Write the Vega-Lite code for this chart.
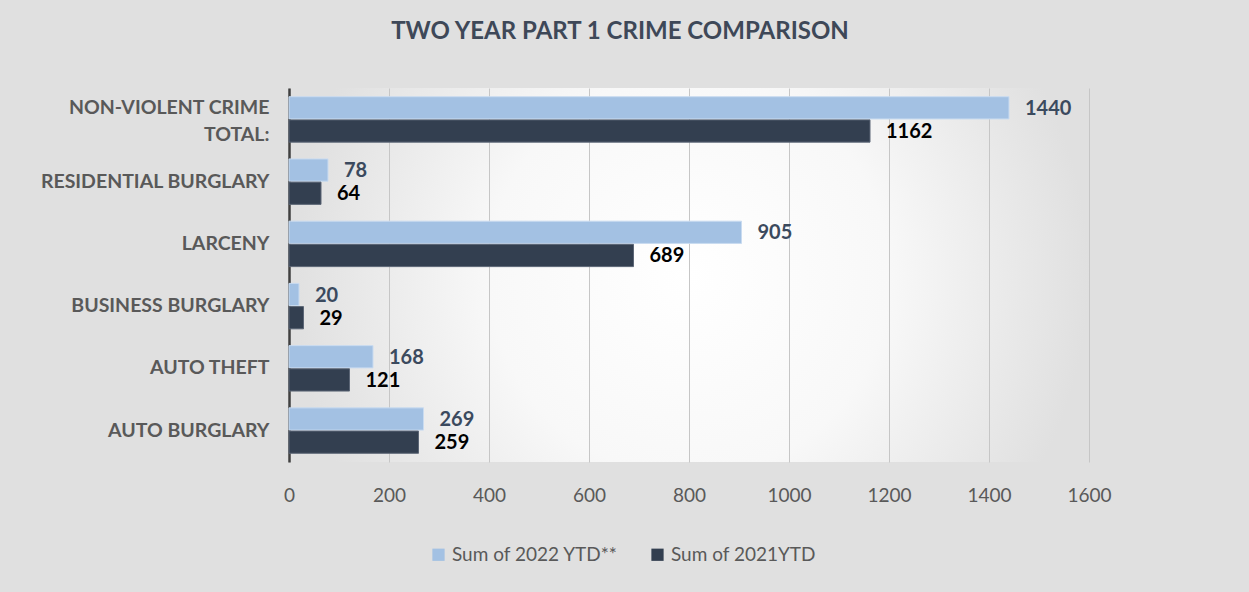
{
  "$schema": "https://vega.github.io/schema/vega-lite/v6.json",
  "width": 800,
  "height": 374,
  "autosize": "none",
  "padding": {"left": 289, "top": 88, "right": 160, "bottom": 130},
  "background": "#e0e0e0",
  "config": {
    "font": "Lato",
    "view": {
      "stroke": null,
      "fill": {
        "gradient": "radial",
        "x1": 0.5, "y1": 0.5, "x2": 0.5, "y2": 0.5, "r1": 0, "r2": 0.5,
        "stops": [
          {"offset": 0, "color": "#ffffff"},
          {"offset": 0.5, "color": "#f8f8f8"},
          {"offset": 1, "color": "#e0e0e0"}
        ]
      }
    }
  },
  "title": {
    "text": "TWO YEAR PART 1 CRIME COMPARISON",
    "font": "Lato",
    "fontSize": 24,
    "fontWeight": "bold",
    "color": "#3e4858",
    "anchor": "middle",
    "dx": -69,
    "offset": 44
  },
  "data": {
    "values": [
      {"category": "NON-VIOLENT CRIME TOTAL:", "series": "Sum of 2022 YTD**", "value": 1440},
      {"category": "NON-VIOLENT CRIME TOTAL:", "series": "Sum of 2021YTD", "value": 1162},
      {"category": "RESIDENTIAL BURGLARY", "series": "Sum of 2022 YTD**", "value": 78},
      {"category": "RESIDENTIAL BURGLARY", "series": "Sum of 2021YTD", "value": 64},
      {"category": "LARCENY", "series": "Sum of 2022 YTD**", "value": 905},
      {"category": "LARCENY", "series": "Sum of 2021YTD", "value": 689},
      {"category": "BUSINESS BURGLARY", "series": "Sum of 2022 YTD**", "value": 20},
      {"category": "BUSINESS BURGLARY", "series": "Sum of 2021YTD", "value": 29},
      {"category": "AUTO THEFT", "series": "Sum of 2022 YTD**", "value": 168},
      {"category": "AUTO THEFT", "series": "Sum of 2021YTD", "value": 121},
      {"category": "AUTO BURGLARY", "series": "Sum of 2022 YTD**", "value": 269},
      {"category": "AUTO BURGLARY", "series": "Sum of 2021YTD", "value": 259}
    ]
  },
  "encoding": {
    "y": {
      "field": "category",
      "type": "nominal",
      "sort": ["NON-VIOLENT CRIME TOTAL:", "RESIDENTIAL BURGLARY", "LARCENY", "BUSINESS BURGLARY", "AUTO THEFT", "AUTO BURGLARY"],
      "scale": {"paddingInner": 0.27, "paddingOuter": 0.14},
      "axis": {
        "title": null,
        "domain": true,
        "domainColor": "#404040",
        "domainWidth": 2.5,
        "ticks": false,
        "grid": false,
        "labelFont": "Lato",
        "labelFontSize": 19.5,
        "labelFontWeight": "bold",
        "labelColor": "#595959",
        "labelPadding": 20,
        "labelLimit": 300,
        "labelLineHeight": 27,
        "labelOffset": {"condition": {"test": "datum.value == 'NON-VIOLENT CRIME TOTAL:'", "value": -11}, "value": 0},
        "labelExpr": "datum.value == 'NON-VIOLENT CRIME TOTAL:' ? ['NON-VIOLENT CRIME', 'TOTAL:'] : datum.value"
      }
    },
    "yOffset": {
      "field": "series",
      "type": "nominal",
      "sort": ["Sum of 2022 YTD**", "Sum of 2021YTD"],
      "scale": {"paddingInner": 0.04}
    },
    "x": {
      "field": "value",
      "type": "quantitative",
      "scale": {"domain": [0, 1600], "nice": false},
      "axis": {
        "title": null,
        "values": [0, 200, 400, 600, 800, 1000, 1200, 1400, 1600],
        "format": "d",
        "grid": true,
        "gridColor": "#c6c6c6",
        "domain": false,
        "ticks": false,
        "labelFlush": false,
        "labelFont": "Lato",
        "labelFontSize": 19,
        "labelColor": "#595959",
        "labelPadding": 24
      }
    }
  },
  "layer": [
    {
      "mark": {"type": "bar", "strokeWidth": 1},
      "encoding": {
        "color": {
          "field": "series",
          "type": "nominal",
          "sort": ["Sum of 2022 YTD**", "Sum of 2021YTD"],
          "scale": {"domain": ["Sum of 2022 YTD**", "Sum of 2021YTD"], "range": ["#a3c1e3", "#333f50"]},
          "legend": {
            "title": null,
            "orient": "none",
            "direction": "horizontal",
            "legendX": 140,
            "legendY": 457,
            "labelFont": "Lato",
            "labelFontSize": 19,
            "labelColor": "#595959",
            "labelLimit": 400,
            "symbolType": "square",
            "symbolSize": 150,
            "symbolStrokeWidth": 0,
            "columnPadding": 30,
            "labelOffset": 4
          }
        },
        "stroke": {
          "field": "series",
          "type": "nominal",
          "scale": {"domain": ["Sum of 2022 YTD**", "Sum of 2021YTD"], "range": ["#c9dbf0", "#5c6676"]},
          "legend": null
        }
      }
    },
    {
      "mark": {"type": "text", "align": "left", "baseline": "middle", "dx": 16, "dy": 1, "fontSize": 20, "fontWeight": "bold", "font": "Lato"},
      "encoding": {
        "text": {"field": "value", "type": "quantitative"},
        "fill": {
          "field": "series",
          "type": "nominal",
          "scale": {"domain": ["Sum of 2022 YTD**", "Sum of 2021YTD"], "range": ["#3b4a5e", "#000000"]},
          "legend": null
        }
      }
    }
  ]
}
